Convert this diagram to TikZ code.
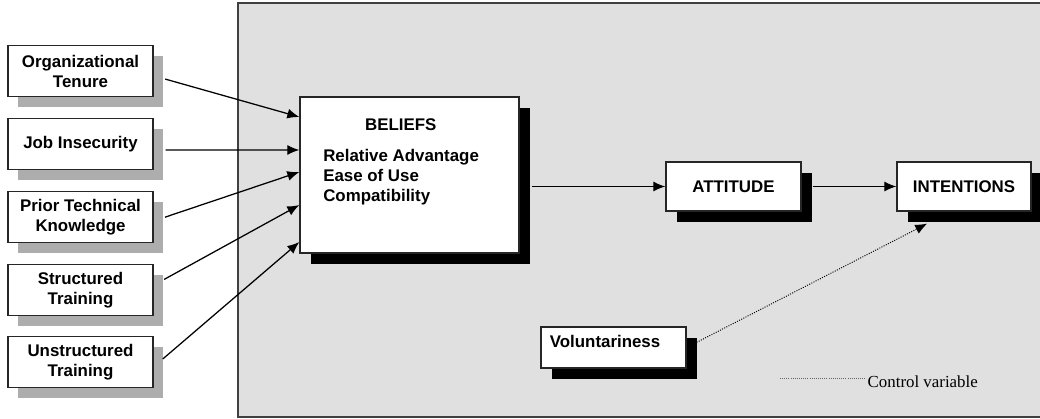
\documentclass[tikz,border=0pt]{standalone}
\usepackage{fontspec}
\setmainfont{Liberation Serif}
\setsansfont{Liberation Sans}
\usetikzlibrary{arrows.meta,shadows}
\tikzset{
  factor/.style={draw=black!85, line width=0.9pt, fill=white, minimum width=3.625cm, minimum height=1.28cm, inner sep=1pt, align=center,
    font=\sffamily\bfseries\fontsize{12}{14.2}\selectfont,
    drop shadow={shadow xshift=0.26cm, shadow yshift=-0.27cm, fill=black!32, opacity=1}},
  construct/.style={draw=black!85, line width=0.9pt, fill=white, inner sep=1pt, align=center,
    font=\sffamily\bfseries\fontsize{12}{14.2}\selectfont,
    drop shadow={shadow xshift=0.28cm, shadow yshift=-0.28cm, fill=black, opacity=1}},
  arr/.style={-{Latex[length=0.3cm,width=0.25cm]}, line width=0.9pt},
  ctrl/.style={densely dotted, line width=0.7pt}
}
\begin{document}
\begin{tikzpicture}[x=0.025cm,y=-0.025cm]
    \useasboundingbox (0,0) rectangle (1040,419);
    \draw[draw=black!75, line width=1pt, fill=black!12] (238,3) rectangle (1046,417);
    \node[factor] (org) at (80.5,71) {Organizational\\Tenure};
    \node[factor] (job) at (80.5,144) {Job Insecurity};
    \node[factor] (prior) at (80.5,217) {Prior Technical\\Knowledge};
    \node[factor] (struct) at (80.5,290) {Structured\\Training};
    \node[factor] (unstruct) at (80.5,362) {Unstructured\\Training};
    \node[construct, minimum width=5.475cm, minimum height=3.9cm] (beliefs) at (409.5,175) {};
    \node[anchor=north west, inner sep=0pt, align=left, font=\sffamily\bfseries\fontsize{12}{14.2}\selectfont] (blist) at (323,118)
        {\hspace*{29.8pt}BELIEFS\\[8.5pt]Relative Advantage\\Ease of Use\\Compatibility};
    \node[construct, minimum width=3.375cm, minimum height=1.225cm] (attitude) at (733.5,186.5) {ATTITUDE};
    \node[construct, minimum width=3.35cm, minimum height=1.225cm] (intentions) at (964,186.5) {INTENTIONS};
    \node[construct, minimum width=3.625cm, minimum height=1.025cm, inner xsep=0.22cm, text width=3.18cm, align=left, text depth=0.32cm] (vol) at (613.5,347.5) {Voluntariness};
    \foreach \src/\dy/\ty in {org/-0.12/1.45, job/-0.15/0.625, prior/-0.1/0.075, struct/0.12/-0.75, unstruct/-0.12/-1.675}
    \draw[arr, shorten <=0.3cm] ([yshift=\dy cm]\src.east) -- ([yshift=\ty cm]beliefs.west);
    \draw[arr, shorten <=0.3cm] (beliefs.east |- attitude.west) -- (attitude.west);
    \draw[arr, shorten <=0.28cm] (attitude.east) -- (intentions.west);
    \draw[ctrl, -{Latex[length=0.3cm,width=0.25cm]}, shorten <=0.28cm] (vol.east) -- ([xshift=-0.92cm,yshift=-0.3cm]intentions.south);
    \coordinate (legstart) at (780,378);
    \node[anchor=west, inner sep=1pt, font=\fontsize{12}{14}\selectfont] (legend) at (866,382) {Control variable};
    \draw[densely dotted, draw=black!60, line width=0.5pt] (legstart) -- (legend.west |- legstart);
\end{tikzpicture}
\end{document}
